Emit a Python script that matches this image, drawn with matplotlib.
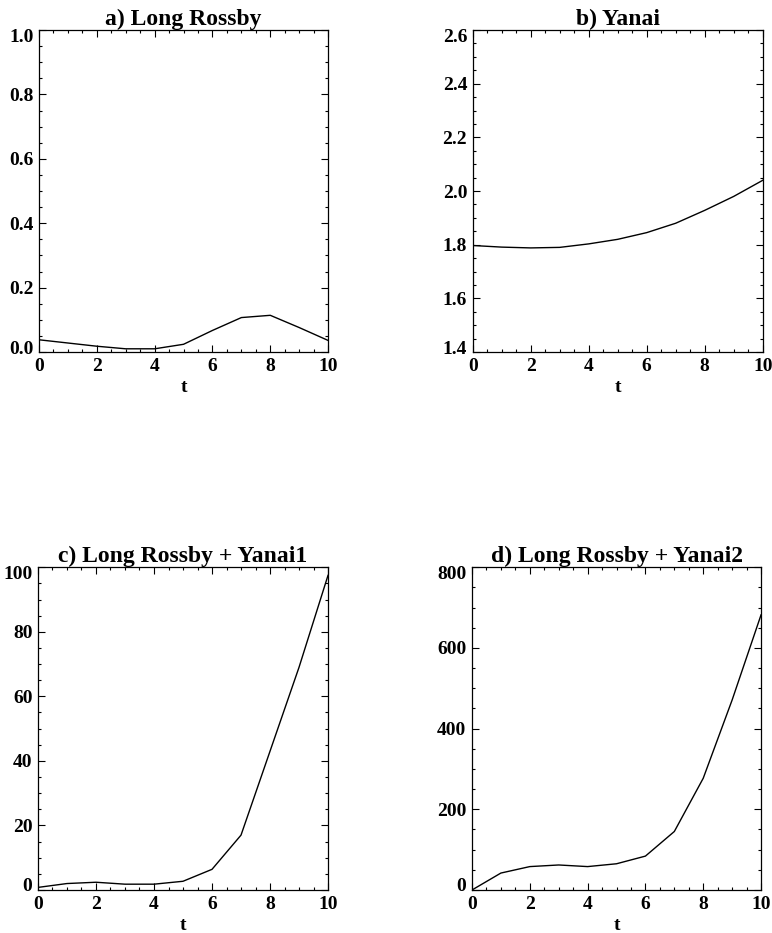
## Four-panel time series (t = 0..10)
import numpy as np
import matplotlib.pyplot as plt
from matplotlib.ticker import MultipleLocator
from matplotlib.transforms import ScaledTranslation

## Data
t = [0, 1, 2, 3, 4, 5, 6, 7, 8, 9, 10]
long_rossby = [0.038, 0.028, 0.018, 0.010, 0.010, 0.024, 0.067, 0.107, 0.114, 0.076, 0.036]
yanai = [1.797, 1.791, 1.788, 1.790, 1.803, 1.820, 1.845, 1.880, 1.928, 1.980, 2.040]
rossby_yanai1 = [0.8, 2.0, 2.4, 1.8, 1.8, 2.7, 6.4, 17.0, 43.0, 69.0, 97.5]
rossby_yanai2 = [0, 42, 58, 62, 58, 65, 84, 145, 277, 471, 682]

titles = ['a) Long Rossby', 'b) Yanai', 'c) Long Rossby + Yanai1', 'd) Long Rossby + Yanai2']
series = [long_rossby, yanai, rossby_yanai1, rossby_yanai2]
ylims = [(0, 1.0), (1.4, 2.6), (0, 100), (0, 800)]
ymajor = [0.2, 0.2, 20, 200]
ylabel_fmt = ['{:.1f}', '{:.1f}', '{:.0f}', '{:.0f}']

plt.rcParams['font.family'] = ['Liberation Serif', 'DejaVu Serif']
plt.rcParams['font.weight'] = 'bold'

fig = plt.figure(figsize=(7.72, 9.33), dpi=100)

## axes boxes in figure fraction [left, bottom, width, height]
boxes = [
    [0.0505, 0.6227, 0.3745, 0.3451],
    [0.6123, 0.6227, 0.3757, 0.3451],
    [0.0492, 0.0461, 0.3757, 0.3459],
    [0.6114, 0.0461, 0.3744, 0.3459],
]

for i in range(4):
    ax = fig.add_axes(boxes[i])
    ax.plot(t, series[i], color='black', lw=1.0)
    ax.set_xlim(0, 10)
    ax.set_ylim(*ylims[i])
    ax.xaxis.set_major_locator(MultipleLocator(2))
    ax.xaxis.set_minor_locator(MultipleLocator(0.5))
    ax.yaxis.set_major_locator(MultipleLocator(ymajor[i]))
    ax.yaxis.set_minor_locator(MultipleLocator(ymajor[i] / 4))
    ax.tick_params(which='both', direction='in', top=True, right=True, width=0.8)
    ax.tick_params(which='major', length=5, labelsize=14, pad=4)
    ax.tick_params(which='minor', length=2.5)
    yt = np.arange(ylims[i][0], ylims[i][1] + ymajor[i] / 2, ymajor[i])
    ax.set_yticks(yt)
    ax.set_yticklabels([ylabel_fmt[i].format(v) for v in yt], fontweight='bold')
    ax.set_xticks([0, 2, 4, 6, 8, 10])
    ax.set_xticklabels(['0', '2', '4', '6', '8', '10'], fontweight='bold')
    # edge labels pushed inward like the original
    labs = ax.get_yticklabels()
    labs[0].set_transform(labs[0].get_transform() + ScaledTranslation(0, 5 / 100, fig.dpi_scale_trans))
    labs[-1].set_transform(labs[-1].get_transform() + ScaledTranslation(0, -5 / 100, fig.dpi_scale_trans))
    for sp in ax.spines.values():
        sp.set_linewidth(0.9)
    ax.set_title(titles[i], fontsize=17, fontweight='bold', pad=1)
    ax.set_xlabel('t', fontsize=14, fontweight='bold', labelpad=3)

fig.savefig('out.png', dpi=100)
